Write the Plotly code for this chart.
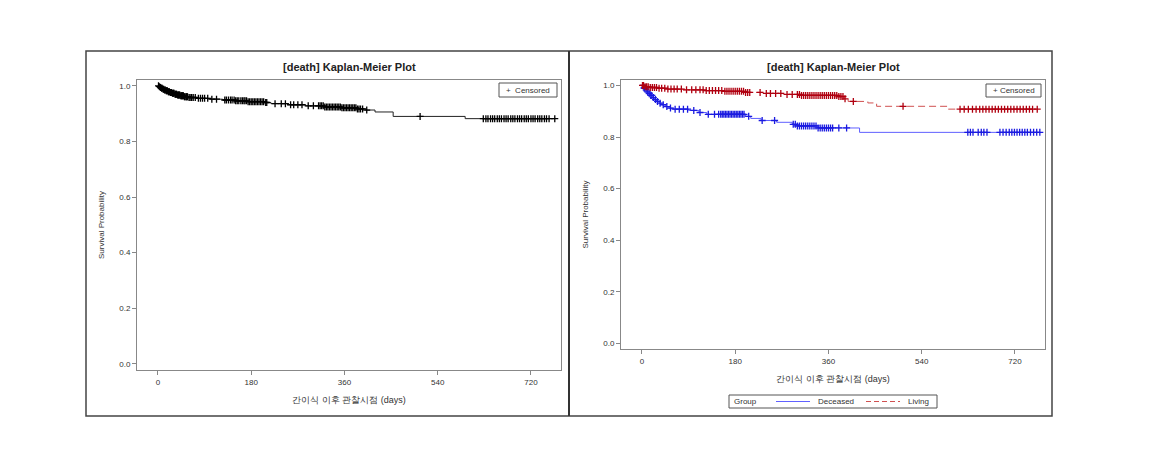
import plotly.graph_objects as go

# ---- data ----
# overall Kaplan-Meier step function
all_time = [0, 2, 4, 6, 9, 12, 15, 19, 23, 27, 32, 37, 43, 50, 58, 75, 100, 125, 150, 172,
            205, 218, 250, 285, 320, 355, 385, 400, 419, 454, 593, 766]
all_surv = [1.0, 0.997, 0.994, 0.991, 0.988, 0.985, 0.982, 0.979, 0.976, 0.973, 0.970, 0.967,
            0.964, 0.961, 0.958, 0.955, 0.952, 0.949, 0.946, 0.943, 0.940, 0.936, 0.932, 0.928,
            0.924, 0.921, 0.917, 0.913, 0.906, 0.890, 0.882, 0.882]
all_cens = [1, 3, 5, 7, 8, 10, 11, 13, 14, 16, 17, 18, 20, 21, 22, 24, 25, 26, 28, 29, 30, 31,
            33, 34, 35, 36, 38, 39, 40, 41, 42, 44, 45, 46, 47, 48, 49, 51, 52, 54, 55, 56, 57,
            60, 62, 65, 68, 72, 78, 82, 86, 90, 96, 104, 113, 129, 132, 136, 140, 143, 147, 150,
            153, 156, 160, 163, 166, 168, 171, 174, 177, 180, 183, 186, 189, 192, 195, 198, 201,
            204, 208, 210, 226, 238, 246, 256, 262, 270, 278, 290, 300, 310, 313, 316, 319, 322,
            325, 328, 331, 334, 337, 340, 343, 346, 349, 352, 355, 358, 361, 364, 367, 370, 373,
            376, 379, 382, 385, 388, 391, 395, 403, 506, 628, 633, 637, 642, 646, 650, 655, 659,
            663, 668, 672, 676, 681, 685, 689, 694, 698, 702, 707, 711, 715, 720, 724, 728, 733,
            737, 741, 746, 750, 755, 766]

# group: Deceased
dec_time = [0, 3, 6, 10, 13, 16, 20, 24, 28, 33, 38, 45, 52, 60, 90, 110, 125, 200, 210, 230,
            260, 290, 300, 340, 420, 768]
dec_surv = [1.0, 0.990, 0.983, 0.975, 0.968, 0.961, 0.953, 0.945, 0.938, 0.931, 0.925, 0.918,
            0.912, 0.908, 0.903, 0.895, 0.888, 0.880, 0.872, 0.864, 0.857, 0.849, 0.843, 0.835,
            0.818, 0.818]
dec_cens = [2, 4, 5, 8, 11, 14, 17, 19, 22, 26, 30, 35, 41, 48, 55, 64, 72, 80, 88, 100, 112,
            128, 140, 148, 152, 155, 158, 161, 164, 167, 170, 173, 176, 179, 182, 185, 188, 191,
            194, 197, 206, 232, 256, 292, 296, 300, 304, 308, 312, 316, 320, 324, 328, 332, 336,
            340, 344, 348, 352, 356, 360, 364, 368, 380, 395, 629, 634, 639, 649, 655, 660, 666,
            691, 697, 703, 709, 714, 719, 724, 729, 734, 739, 744, 750, 756, 762, 768]

# group: Living
liv_time = [0, 5, 15, 30, 50, 80, 120, 160, 200, 240, 280, 305, 380, 390, 398, 436, 453, 591, 763]
liv_surv = [1.0, 0.995, 0.992, 0.989, 0.986, 0.983, 0.980, 0.977, 0.973, 0.969, 0.965, 0.961,
            0.957, 0.948, 0.938, 0.932, 0.919, 0.908, 0.908]
liv_cens = [1, 3, 6, 9, 12, 16, 20, 24, 28, 33, 38, 44, 50, 56, 62, 68, 76, 86, 96, 104, 112,
            118, 124, 130, 136, 142, 148, 154, 160, 164, 168, 172, 176, 180, 184, 188, 192, 196,
            200, 204, 208, 228, 240, 248, 258, 268, 280, 290, 300, 304, 308, 312, 316, 320, 324,
            328, 332, 336, 340, 344, 348, 352, 356, 360, 364, 368, 372, 376, 380, 384, 388, 392,
            408, 504, 614, 622, 630, 638, 645, 652, 658, 664, 670, 676, 682, 688, 694, 700, 706,
            712, 718, 724, 730, 736, 742, 748, 754, 763]

x_ticks = [0, 180, 360, 540, 720]
y_ticks = [0.0, 0.2, 0.4, 0.6, 0.8, 1.0]


def surv_at(t, times, surv):
    s = surv[0]
    for tt, ss in zip(times, surv):
        if tt <= t:
            s = ss
    return s


W, H = 1154, 466
OFF = 8  # page body margin
FONT = "Liberation Sans, Arial, sans-serif"
LIVING_DASH = "7px,4px"


def px(x):
    return (x - OFF) / W


def py(y):
    return 1 - (y - OFF) / H


fig = go.Figure()


def add_curve(times, surv, cens, color, mcolor, dash, xa, ya):
    fig.add_trace(go.Scatter(x=times, y=surv, mode="lines", line_shape="hv",
                             line=dict(color=color, width=1, dash=dash),
                             xaxis=xa, yaxis=ya, showlegend=False, hoverinfo="skip"))
    fig.add_trace(go.Scatter(x=cens, y=[surv_at(t, times, surv) for t in cens], mode="markers",
                             marker=dict(symbol="cross-thin", size=5,
                                         line=dict(color=mcolor, width=1.3)),
                             xaxis=xa, yaxis=ya, showlegend=False, hoverinfo="skip"))


add_curve(all_time, all_surv, all_cens, "#222222", "#000000", "solid", "x", "y")
add_curve(dec_time, dec_surv, dec_cens, "#6060ff", "#1a1ae0", "solid", "x2", "y2")
add_curve(liv_time, liv_surv, liv_cens, "#d05050", "#b00010", LIVING_DASH, "x2", "y2")

axis_common = dict(range=[-40.5, 778], tickvals=x_ticks, ticks="outside", ticklen=4,
                   tickcolor="#888", linecolor="#888", linewidth=1, mirror=True,
                   showgrid=False, zeroline=False, automargin=False,
                   tickfont=dict(family=FONT, size=8, color="#333"))
yaxis_common = dict(range=[-0.022, 1.021], tickvals=y_ticks, tickformat=".1f", ticks="outside",
                    ticklen=4, tickcolor="#888", linecolor="#888", linewidth=1, mirror=True,
                    showgrid=False, zeroline=False, automargin=False,
                    tickfont=dict(family=FONT, size=8, color="#333"))

xtitle = dict(text="간이식 이후 관찰시점 (days)", font=dict(family=FONT, size=9, color="#333"),
              standoff=11)
ytitle = dict(text="Survival Probability", font=dict(family=FONT, size=8, color="#333"),
              standoff=13)

fig.update_layout(
    width=W, height=H,
    margin=dict(l=0, r=0, t=0, b=0, pad=0),
    paper_bgcolor="white", plot_bgcolor="white",
    xaxis=dict(axis_common, domain=[px(137), px(561)], anchor="y", title=xtitle),
    yaxis=dict(yaxis_common, domain=[py(370), py(80)], anchor="x", title=ytitle),
    xaxis2=dict(axis_common, domain=[px(621), px(1045)], anchor="y2", title=xtitle),
    yaxis2=dict(yaxis_common, domain=[py(349), py(80)], anchor="x2", title=ytitle),
)

shapes = [
    # outer frames
    dict(type="rect", xref="paper", yref="paper", x0=px(86), x1=px(1052), y0=py(416), y1=py(51),
         line=dict(color="#444", width=1.5)),
    dict(type="line", xref="paper", yref="paper", x0=px(569), x1=px(569), y0=py(416), y1=py(51),
         line=dict(color="#333", width=2)),
    # censored boxes
    dict(type="rect", xref="paper", yref="paper", x0=px(499), x1=px(557), y0=py(97), y1=py(83),
         line=dict(color="#555", width=1)),
    dict(type="rect", xref="paper", yref="paper", x0=px(986), x1=px(1041), y0=py(97), y1=py(84),
         line=dict(color="#555", width=1)),
    # group legend
    dict(type="rect", xref="paper", yref="paper", x0=px(729), x1=px(937), y0=py(408), y1=py(395),
         line=dict(color="#555", width=1)),
    dict(type="line", xref="paper", yref="paper", x0=px(776), x1=px(810), y0=py(401.5), y1=py(401.5),
         line=dict(color="#6060ff", width=1)),
    dict(type="line", xref="paper", yref="paper", x0=px(866), x1=px(900), y0=py(401.5), y1=py(401.5),
         line=dict(color="#d05050", width=1, dash="5px,3px")),
]

ann = []


def label(text, x, y, size, anchor="center", color="#333"):
    ann.append(dict(text=text, x=px(x), y=py(y), xref="paper", yref="paper", showarrow=False,
                    xanchor=anchor, yanchor="middle", font=dict(family=FONT, size=size, color=color)))


for cx in (349, 833):
    label("<b>[death] Kaplan-Meier Plot</b>", cx, 67, 11, color="#222")
label("+  Censored", 528, 90.5, 8)
label("+ Censored", 1013.5, 90.5, 8)
label("Group", 732, 401.5, 8, anchor="left")
label("Deceased", 816, 401.5, 8, anchor="left")
label("Living", 906, 401.5, 8, anchor="left")

fig.update_layout(shapes=shapes, annotations=ann)

fig.write_html("out.html")
